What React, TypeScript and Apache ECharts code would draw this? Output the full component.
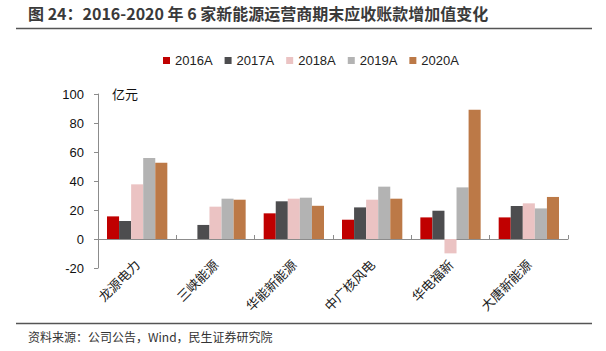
import React, { useEffect, useRef } from "react";
import * as echarts from "echarts";

const categories = ["龙源电力", "三峡能源", "华能新能源", "中广核风电", "华电福新", "大唐新能源"];
const seriesNames = ["2016A", "2017A", "2018A", "2019A", "2020A"];
const v2016 = [15.6, 0, 17.7, 13.3, 14.9, 14.9];
const v2017 = [12.4, 9.7, 26.0, 21.8, 19.5, 22.8];
const v2018 = [37.7, 22.3, 27.8, 27.1, -9.9, 24.6];
const v2019 = [55.9, 27.8, 28.5, 36.1, 35.6, 21.1];
const v2020 = [52.6, 27.1, 22.9, 27.8, 89.2, 29.0];
const colors = ["#C00000", "#4D4D4F", "#EBC3C3", "#B3B3B3", "#BC7947"];
const yTicks = { min: -20, max: 100, interval: 20 };

const titleText = "图 24：2016-2020 年 6 家新能源运营商期末应收账款增加值变化";
const sourceText = "资料来源：公司公告，Wind，民生证券研究院";
const unitText = "亿元";

export default function App() {
  const ref = useRef<HTMLDivElement>(null);
  useEffect(() => {
    if (!ref.current) return;
    const chart = echarts.init(ref.current, null, { renderer: "svg" });
    const values = [v2016, v2017, v2018, v2019, v2020];
    chart.setOption({
      animation: false,
      backgroundColor: "#ffffff",
      textStyle: { fontFamily: "Liberation Sans, Noto Sans CJK SC" },
      grid: { left: 98, right: 38, top: 94, bottom: 83, containLabel: false },
      legend: {
        left: 158,
        top: 49,
        itemWidth: 7,
        itemHeight: 7,
        itemGap: 12,
        icon: "rect",
        textStyle: { fontSize: 13, color: "#222", fontFamily: "Liberation Sans" },
        data: seriesNames,
      },
      xAxis: {
        type: "category",
        data: categories,
        axisLine: { onZero: true, lineStyle: { color: "#8c8c8c", width: 1 } },
        axisTick: { show: true, inside: true, length: 4, alignWithLabel: false, lineStyle: { color: "#8c8c8c" } },
        axisLabel: {
          rotate: 45,
          interval: 0,
          margin: -6,
          fontSize: 13,
          color: "#1a1a1a",
          fontFamily: "Noto Sans CJK SC",
        },
      },
      yAxis: {
        type: "value",
        min: yTicks.min,
        max: yTicks.max,
        interval: yTicks.interval,
        axisLine: { show: true, lineStyle: { color: "#8c8c8c", width: 1 } },
        axisTick: { show: true, length: 4, lineStyle: { color: "#8c8c8c" } },
        splitLine: { show: false },
        axisLabel: { fontSize: 13, color: "#111", margin: 14, fontFamily: "Liberation Sans" },
      },
      series: seriesNames.map((name, i) => ({
        name,
        type: "bar",
        data: values[i],
        barGap: "0%",
        barCategoryGap: "23%",
        itemStyle: { color: colors[i] },
      })),
      graphic: [
        {
          type: "text",
          left: 28,
          top: 5,
          style: {
            text: titleText,
            font: "bold 16px 'Noto Sans CJK SC'",
            fill: "#3a3a3a",
          },
        },
        {
          type: "line",
          shape: { x1: 16, y1: 28.5, x2: 592, y2: 28.5 },
          style: { stroke: "#555", lineWidth: 1.5 },
        },
        {
          type: "text",
          left: 112,
          top: 87,
          style: { text: unitText, font: "13px 'Noto Sans CJK SC'", fill: "#111" },
        },
        {
          type: "line",
          shape: { x1: 16, y1: 323.5, x2: 592, y2: 323.5 },
          style: { stroke: "#555", lineWidth: 1.5 },
        },
        {
          type: "text",
          left: 28,
          top: 330,
          style: { text: sourceText, font: "12px 'Noto Sans CJK SC'", fill: "#333" },
        },
      ],
    });
    return () => chart.dispose();
  }, []);
  return (
    <div
      ref={ref}
      style={{ position: "fixed", left: 0, top: 0, width: 606, height: 351 }}
    />
  );
}
